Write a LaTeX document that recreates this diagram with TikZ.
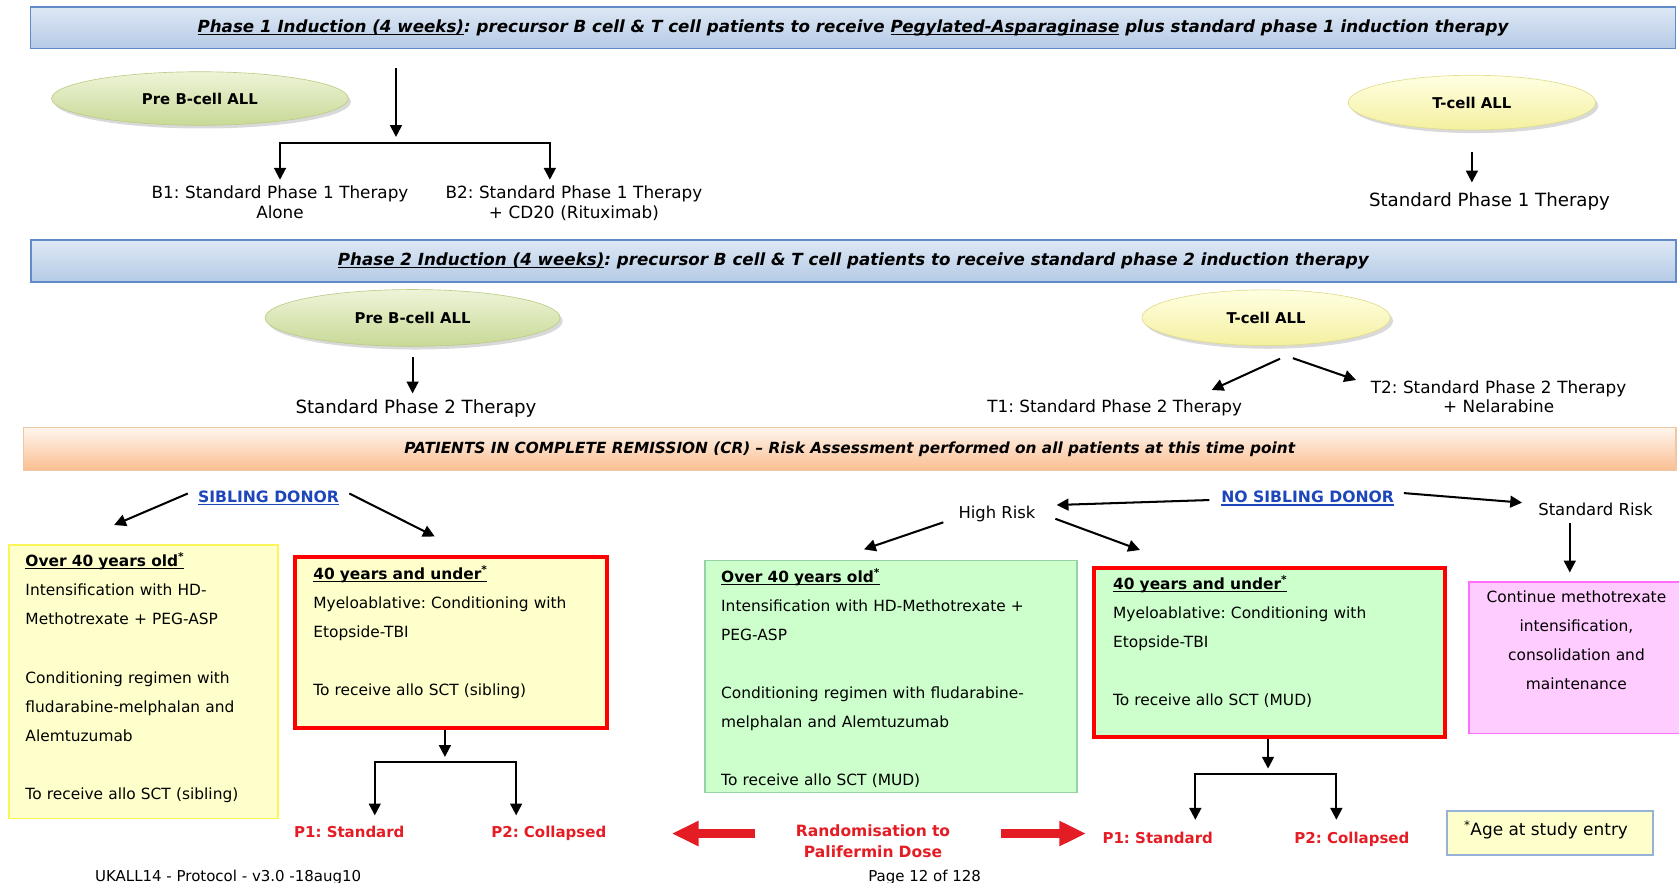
\documentclass[tikz,border=0pt]{standalone}
\usepackage{fontspec}
\setmainfont{DejaVu Sans}[ItalicFont={DejaVu Sans Oblique},BoldItalicFont={DejaVu Sans Bold Oblique}]
\usetikzlibrary{positioning,shapes.geometric,shadows,arrows.meta}

\definecolor{bandline}{RGB}{96,138,200}
\definecolor{bandtop}{RGB}{222,232,244}
\definecolor{bandbot}{RGB}{180,202,230}
\definecolor{crline}{RGB}{238,200,165}
\definecolor{crtop}{RGB}{254,245,237}
\definecolor{crbot}{RGB}{250,190,145}
\definecolor{preBline}{RGB}{186,204,135}
\definecolor{preBtop}{RGB}{238,244,216}
\definecolor{preBbot}{RGB}{200,217,150}
\definecolor{tcellline}{RGB}{225,220,140}
\definecolor{tcelltop}{RGB}{255,255,226}
\definecolor{tcellbot}{RGB}{244,240,160}
\definecolor{sibline}{RGB}{250,245,90}
\definecolor{sibfill}{RGB}{255,255,204}
\definecolor{mudline}{RGB}{150,210,165}
\definecolor{mudfill}{RGB}{204,255,204}
\definecolor{stdline}{RGB}{255,110,255}
\definecolor{stdfill}{RGB}{255,204,255}
\definecolor{ageline}{RGB}{150,178,215}
\definecolor{boxred}{RGB}{255,0,0}
\definecolor{pred}{RGB}{228,28,36}
\definecolor{donorblue}{RGB}{28,70,185}

\newcommand{\fsz}[2]{\fontsize{#1}{#2}\selectfont}
\newcommand{\undr}[1]{\setbox0\hbox{#1}\rlap{\rule[-2.6pt]{\wd0}{1.1pt}}\box0\relax}

\begin{document}
\frenchspacing
\begin{tikzpicture}[
    x=1pt, y=-1pt,
    every node/.style={inner sep=2pt, font=\fsz{14.4}{17}},
    band/.style={draw=bandline, line width=1.6pt, top color=bandtop, bottom color=bandbot,
      minimum width=1536, minimum height=39, font=\bfseries\itshape\fsz{15.6}{18}},
    crband/.style={draw=crline, line width=1.2pt, top color=crtop, bottom color=crbot,
      minimum width=1543, minimum height=40, font=\bfseries\itshape\fsz{14.3}{17}},
    cell/.style={ellipse, draw=#1line, line width=0.6pt, top color=#1top, bottom color=#1bot,
      drop shadow={shadow xshift=2.5pt, shadow yshift=-3pt, opacity=0.3},
      inner sep=0pt, font=\bfseries\fsz{13.9}{16}},
    freetext/.style={font=\fsz{15.7}{19.2}, align=center},
    sibbox/.style={draw=sibline, line width=1.5pt, fill=sibfill},
    mudbox/.style={draw=mudline, line width=1.2pt, fill=mudfill},
    redbox/.style={draw=boxred, line width=3.8pt, fill=#1fill},
    boxtext/.style={anchor=base west, inner sep=0pt, text width=#1, align=left, font=\fsz{14.4}{27.2}},
    donor/.style={text=donorblue, font=\bfseries\fsz{14.6}{17}},
    arm/.style={text=pred, font=\bfseries\fsz{14}{17}},
    arr/.style={-{Triangle[length=11pt, width=11pt]}, line width=1.9pt},
    fork/.style={{Triangle[length=11pt, width=11pt]}-{Triangle[length=11pt, width=11pt]}, line width=1.9pt},
    bigarr/.style={-{Triangle[length=25pt, width=22pt]}, line width=8pt, draw=pred},
  ]
    \useasboundingbox (0,0) rectangle (1568,824.6);

    % Phase 1
    \node[band] (ph1) at (796.6,25.8) {\undr{Phase 1 Induction (4 weeks)}: precursor B cell \& T cell patients to receive \undr{Pegylated-Asparaginase} plus standard phase 1 induction therapy};
    \node[cell=preB, minimum width=277, minimum height=50] (preB1) at (186.7,92) {Pre B-cell ALL};
    \node[cell=tcell, minimum width=231, minimum height=51] (tc1) at (1374.6,95.8) {T-cell ALL};
    \node[freetext, text width=260, anchor=base] (b1) at (261.5,185) {B1: Standard Phase 1 Therapy\\Alone};
    \node[freetext, text width=260, anchor=base] (b2) at (536,185) {B2: Standard Phase 1 Therapy\\+ CD20 (Rituximab)};
    \node[anchor=base, font=\fsz{17}{19}] (std1) at (1391,192.5) {Standard Phase 1 Therapy};
    \coordinate (bdrop) at (369.8,63.8);
    \coordinate (bsplit) at (369.8,133.9);
    \coordinate (bleft) at (261.5,133.9);
    \coordinate (bright) at (513.5,133.9);
    \draw[arr, shorten >=6] (bdrop) -- (bsplit);
    \draw[fork, shorten <=3, shorten >=3] (b1.north -| bleft) |- (bright) -- (b2.north -| bright);
    \draw[arr, shorten <=20, shorten >=7] (tc1.south) -- (tc1.south |- std1.north);

    % Phase 2
    \node[band] (ph2) at (796.9,243.9) {\undr{Phase 2 Induction (4 weeks)}: precursor B cell \& T cell patients to receive standard phase 2 induction therapy};
    \node[cell=preB, minimum width=275.5, minimum height=53] (preB2) at (385.3,296.9) {Pre B-cell ALL};
    \node[cell=tcell, minimum width=232, minimum height=52] (tc2) at (1182.4,296.7) {T-cell ALL};
    \node[anchor=base, font=\fsz{17}{19}] (std2) at (388.5,386.5) {Standard Phase 2 Therapy};
    \node[freetext, anchor=base] (t1) at (1041,385) {T1: Standard Phase 2 Therapy};
    \node[freetext, text width=250, anchor=base, font=\fsz{15.7}{17.5}] (t2) at (1399.5,367.5) {T2: Standard Phase 2 Therapy\\+ Nelarabine};
    \coordinate (t1tip) at (1131.6,364.2);
    \coordinate (t2tip) at (1266.4,354.9);
    \draw[arr, shorten <=10, shorten >=4] (preB2.south) -- (preB2.south |- std2.north);
    \draw[arr] (tc2.south) ++(13,12) -- (t1tip);
    \draw[arr] (tc2.south) ++(25,11.5) -- (t2tip);

    % Complete remission
    \node[crband] (cr) at (793.6,419.3) {PATIENTS IN COMPLETE REMISSION (CR) -- Risk Assessment performed on all patients at this time point};

    % Sibling donor
    \node[donor, anchor=base] (sib) at (250.8,469) {\undr{SIBLING DONOR}};
    \node[sibbox, minimum width=251.3, minimum height=255.5] (sibOld) at (134,636.5) {};
    \node[redbox=sib, minimum width=291, minimum height=160] (sibYoung) at (421.2,600) {};
    \node[boxtext=235] (sibOldTxt) at (23.6,529.1) {\textbf{\undr{Over 40 years old\textsuperscript{*}}}\\Intensification with HD-\\Methotrexate + PEG-ASP\\[27.2pt]Conditioning regimen with\\fludarabine-melphalan and\\Alemtuzumab\\[27.2pt]To receive allo SCT (sibling)};
    \node[boxtext=270] (sibYoungTxt) at (292.4,540.9) {\textbf{\undr{40 years and under\textsuperscript{*}}}\\Myeloablative: Conditioning with\\Etopside-TBI\\[27.2pt]To receive allo SCT (sibling)};
    \node[arm, anchor=base] (sibP1) at (326.2,782.3) {P1: Standard};
    \node[arm, anchor=base] (sibP2) at (512.5,782.3) {P2: Collapsed};
    \coordinate (sibOldTip) at (106.6,490.3);
    \coordinate (sibYoungTip) at (406,501);
    \coordinate (sibSplit) at (415.5,711.9);
    \coordinate (sibL) at (350,711.9);
    \coordinate (sibR) at (482,711.9);
    \draw[arr] (sib.west) ++(-7.5,-4) -- (sibOldTip);
    \draw[arr] (sib.east) ++(7.5,-4) -- (sibYoungTip);
    \draw[arr, shorten >=5] (sibYoung.south -| sibSplit) -- (sibSplit);
    \draw[fork, shorten <=8, shorten >=8] (sibL |- sibP1.north) |- (sibR) -- (sibR |- sibP2.north);

    % No sibling donor
    \node[donor, anchor=base] (nsd) at (1221.2,469.6) {\undr{NO SIBLING DONOR}};
    \node[anchor=base, font=\fsz{15.3}{18}] (hr) at (931,484) {High Risk};
    \node[anchor=base, font=\fsz{15.4}{18}] (sr) at (1490,481) {Standard Risk};
    \node[mudbox, minimum width=347.4, minimum height=216.7] (hrOld) at (832.1,632) {};
    \node[redbox=mud, minimum width=327.6, minimum height=158.4] (hrYoung) at (1185.7,609.4) {};
    \node[draw=stdline, line width=1.5pt, fill=stdfill, minimum width=208, minimum height=141.7] (stdBox) at (1475.7,614.2) {};
    \node[boxtext=320] (hrOldTxt) at (673.3,543.6) {\textbf{\undr{Over 40 years old\textsuperscript{*}}}\\Intensification with HD-Methotrexate +\\PEG-ASP\\[27.2pt]Conditioning regimen with fludarabine-\\melphalan and Alemtuzumab\\[27.2pt]To receive allo SCT (MUD)};
    \node[boxtext=300] (hrYoungTxt) at (1039.3,550.2) {\textbf{\undr{40 years and under\textsuperscript{*}}}\\Myeloablative: Conditioning with\\Etopside-TBI\\[27.2pt]To receive allo SCT (MUD)};
    \node[anchor=base, text width=200, align=center, inner sep=0pt, font=\fsz{14.4}{27.2}] (stdTxt) at (1472.2,562.7) {Continue methotrexate\\intensification,\\consolidation and\\maintenance};
    \node[arm, anchor=base] (hrP1) at (1081.2,787.9) {P1: Standard};
    \node[arm, anchor=base] (hrP2) at (1262.5,787.9) {P2: Collapsed};
    \node[draw=ageline, line width=2pt, fill=sibfill, minimum width=192.3, minimum height=41] (ageBox) at (1447.5,777.9) {};
    \node[anchor=base west, inner sep=0pt, font=\fsz{15.8}{18}] (ageTxt) at (1367,780) {\textsuperscript{*}Age at study entry};
    \coordinate (hrIn) at (986.8,471.6);
    \coordinate (srIn) at (1421.4,469.4);
    \coordinate (hrOldTip) at (806.9,513);
    \coordinate (hrYoungTip) at (1064.6,513.6);
    \coordinate (srDrop) at (1466,488.7);
    \coordinate (hrSplit) at (1184.2,722.8);
    \coordinate (hrL) at (1116.3,722.8);
    \coordinate (hrR) at (1248,722.8);
    \draw[arr] (nsd.west) ++(-9,1.5) -- (hrIn);
    \draw[arr] (nsd.east) ++(7,-5) -- (srIn);
    \draw[arr] (hr.west) ++(-12,8) -- (hrOldTip);
    \draw[arr] (hr.east) ++(16.5,4.7) -- (hrYoungTip);
    \draw[arr, shorten >=8] (srDrop) -- (srDrop |- stdBox.north);
    \draw[arr, shorten >=5] (hrYoung.south -| hrSplit) -- (hrSplit);
    \draw[fork, shorten <=9.5, shorten >=9.5] (hrL |- hrP1.north) |- (hrR) -- (hrR |- hrP2.north);

    % Randomisation
    \node[text=pred, font=\bfseries\fsz{14.5}{20}, text width=160, align=center, anchor=base] (rand) at (815.3,781) {Randomisation to\\Palifermin Dose};
    \draw[bigarr, shorten <=27.6, shorten >=59] (rand.west |- sibP2.east) -- (sibP2.east);
    \draw[bigarr, shorten <=37.6, shorten >=13.2] (rand.east |- sibP2.east) -- (hrP1.west |- sibP2.east);

    % Footer
    \node[anchor=base, font=\fsz{14}{17}] (foot) at (213.1,823) {UKALL14 - Protocol - v3.0 -18aug10};
    \node[anchor=base, font=\fsz{14}{17}] (page) at (863.5,823) {Page 12 of 128};
  \end{tikzpicture}
\end{document}
